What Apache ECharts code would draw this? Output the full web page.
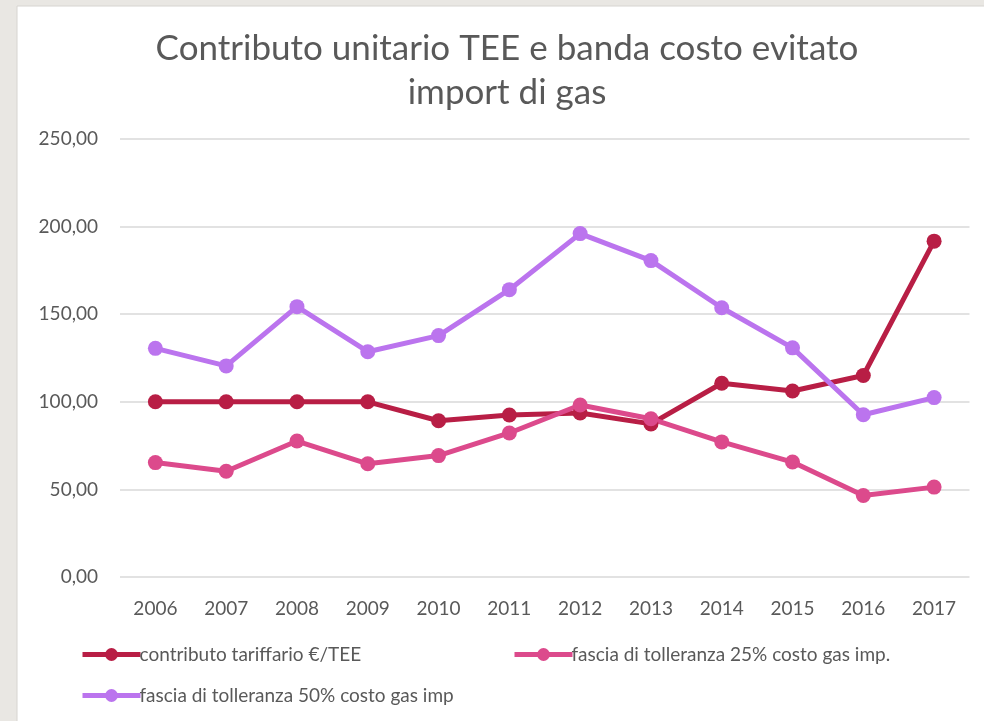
<!DOCTYPE html>
<html>
<head>
<meta charset="utf-8">
<script src="https://cdn.jsdelivr.net/npm/echarts@6/dist/echarts.min.js"></script>
<style>html,body{margin:0;padding:0;background:#e9e7e3;}#c{width:984px;height:721px;}</style>
</head>
<body>
<div id="c"></div>
<script>
var categories = ['2006','2007','2008','2009','2010','2011','2012','2013','2014','2015','2016','2017'];
var contributo = [100, 100, 100, 100, 89.2, 92.5, 93.6, 87.4, 110.6, 106.2, 115, 191.7];
var fascia25 = [65.3, 60.4, 77.6, 64.6, 69.3, 82.2, 98.2, 90.3, 77.1, 65.6, 46.5, 51.3];
var fascia50 = [130.5, 120.5, 154.3, 128.6, 137.8, 164, 196, 180.6, 153.7, 130.8, 92.6, 102.4];
var seriesNames = ['contributo tariffario €/TEE', 'fascia di tolleranza 25% costo gas imp.', 'fascia di tolleranza 50% costo gas imp'];
var colors = ['#B81E45', '#DC4A8C', '#BB74EE'];
var FONT = 'Lato, "Open Sans", sans-serif';

var chart = echarts.init(document.getElementById('c'));
function mkSeries(name, data, color) {
  return {
    name: name, type: 'line', data: data,
    symbol: 'circle', symbolSize: 15,
    lineStyle: {width: 5, color: color},
    itemStyle: {color: color},
    emphasis: {disabled: true}
  };
}
function mkLegend(name, left, top) {
  return {
    data: [name], left: left, top: top, itemWidth: 58, itemHeight: 16, itemGap: 0,
    lineStyle: {width: 5},
    textStyle: {fontFamily: FONT, fontSize: 19, color: '#595959', padding: [0,0,0,-6]}
  };
}
chart.setOption({
  animation: false,
  color: colors,
  graphic: [
    {type: 'rect', shape: {x: 17, y: 6, width: 980, height: 730}, style: {fill: '#ffffff', stroke: '#d6d4d0', lineWidth: 1}, z: -10}
  ],
  title: {
    text: 'Contributo unitario TEE e banda costo evitato\nimport di gas',
    left: 502, top: 22, textAlign: 'center',
    textStyle: {fontFamily: FONT, fontSize: 35, fontWeight: 'normal', color: '#595959', lineHeight: 44}
  },
  legend: [
    mkLegend(seriesNames[0], 75, 640),
    mkLegend(seriesNames[1], 507, 640),
    mkLegend(seriesNames[2], 75, 681)
  ],
  grid: {left: 120, right: 14.5, top: 139, bottom: 144, containLabel: false},
  xAxis: {
    type: 'category', data: categories, boundaryGap: true,
    axisLine: {show: false}, axisTick: {show: false},
    axisLabel: {fontFamily: FONT, fontSize: 19, color: '#595959', margin: 22}
  },
  yAxis: {
    type: 'value', min: 0, max: 250, interval: 50,
    axisLine: {show: false}, axisTick: {show: false},
    splitLine: {lineStyle: {color: '#d9d9d9', width: 1.5}},
    axisLabel: {fontFamily: FONT, fontSize: 19, color: '#595959', margin: 22,
      formatter: function (v) { return v.toFixed(2).replace('.', ','); }}
  },
  series: [
    mkSeries(seriesNames[0], contributo, colors[0]),
    mkSeries(seriesNames[1], fascia25, colors[1]),
    mkSeries(seriesNames[2], fascia50, colors[2])
  ]
});
</script>
</body>
</html>
